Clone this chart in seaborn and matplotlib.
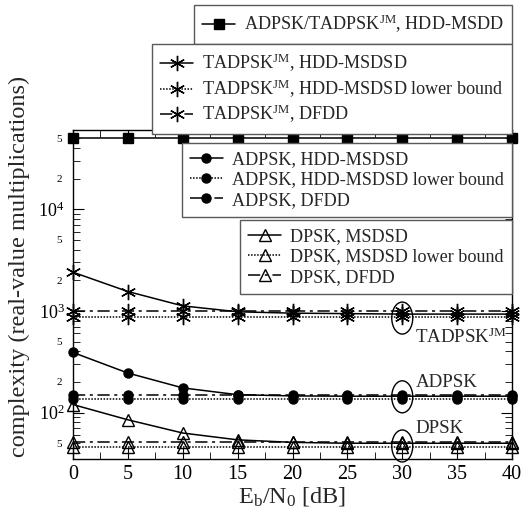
import numpy as np
import matplotlib
matplotlib.use("Agg")
import matplotlib.pyplot as plt
import matplotlib.ticker as mticker
from matplotlib.patches import Ellipse
from matplotlib.transforms import ScaledTranslation
import seaborn as sns

# ── Data ──────────────────────────────────────────────────────────────────────
snr_db = [0, 5, 10, 15, 20, 25, 30, 35, 40]

hdd_msdd = [5e4] * 9

tadpsk_msdsd = [2400, 1550, 1120, 980, 950, 940, 930, 930, 930]
tadpsk_lower = [880] * 9
tadpsk_dfdd = [1000] * 9

adpsk_msdsd = [390, 245, 175, 150, 146, 145, 145, 145, 145]
adpsk_lower = [137] * 9
adpsk_dfdd = [150] * 9

dpsk_msdsd = [120, 85, 63, 54, 51, 50, 50, 50, 50]
dpsk_lower = [46] * 9
dpsk_dfdd = [51] * 9

# ── Style ─────────────────────────────────────────────────────────────────────
sns.set_style("ticks")
plt.rcParams["font.family"] = ["Liberation Serif", "DejaVu Serif"]
plt.rcParams["mathtext.fontset"] = "custom"
plt.rcParams["mathtext.rm"] = "Liberation Serif"
plt.rcParams["mathtext.it"] = "Liberation Serif:italic"
plt.rcParams["axes.edgecolor"] = "black"
plt.rcParams["axes.linewidth"] = 1.0

FS = 13.1      # legend / annotation text
LAB_FS = 17.5  # axis labels
dashdot = (0, (8, 3, 2, 3))
dotted = (0, (1, 1))

W, H = 526, 512
fig = plt.figure(figsize=(W / 100, H / 100), dpi=100)
ax = fig.add_axes([73 / W, 1 - 459 / H, (512 - 73) / W, (459 - 130) / H])

star = (6, 2, 0)


def draw(y, ls, marker, ms, mfc):
    sns.lineplot(x=snr_db, y=y, ax=ax, color="black", linestyle=ls, lw=1.1,
                 marker=marker, markersize=ms, markerfacecolor=mfc,
                 markeredgecolor="black", markeredgewidth=1.0, clip_on=False)
    return ax.lines[-1]


h_sq = draw(hdd_msdd, "-", "s", 7.5, "black")

h_t1 = draw(tadpsk_msdsd, "-", star, 11, "none")
h_t2 = draw(tadpsk_lower, dotted, star, 11, "none")
h_t3 = draw(tadpsk_dfdd, dashdot, star, 11, "none")

h_a1 = draw(adpsk_msdsd, "-", "o", 6.5, "black")
h_a2 = draw(adpsk_lower, dotted, "o", 6.5, "black")
h_a3 = draw(adpsk_dfdd, dashdot, "o", 6.5, "black")

h_d1 = draw(dpsk_msdsd, "-", "^", 9, "none")
h_d2 = draw(dpsk_lower, dotted, "^", 9, "none")
h_d3 = draw(dpsk_dfdd, dashdot, "^", 9, "none")

# ── Axes ──────────────────────────────────────────────────────────────────────
ax.set_yscale("log")
ax.set_xlim(0, 40)
ax.set_ylim(35, 6e4)
ax.set_xticks(range(0, 41, 5))
ax.xaxis.set_minor_locator(mticker.MultipleLocator(2.5))
ax.yaxis.set_major_locator(mticker.LogLocator(base=10, numticks=10))
ax.yaxis.set_minor_locator(mticker.LogLocator(base=10, subs=np.arange(2, 10), numticks=20))
ax.yaxis.set_major_formatter(mticker.FuncFormatter(
    lambda v, p: r"$10^{%d}$" % round(np.log10(v))))


def minor_fmt(v, p):
    m = v / 10 ** np.floor(np.log10(v) + 1e-9)
    if abs(m - 2) < 0.01:
        return "2"
    if abs(m - 5) < 0.01:
        return "5"
    return ""


ax.yaxis.set_minor_formatter(mticker.FuncFormatter(minor_fmt))
ax.tick_params(which="both", direction="in", top=True, right=True, colors="black")
ax.tick_params(which="major", length=8)
ax.tick_params(which="minor", length=5)
ax.tick_params(axis="x", which="major", labelsize=14.5, pad=4)
ax.tick_params(axis="y", which="major", labelsize=13, pad=6)
ax.tick_params(axis="y", which="minor", labelsize=8, pad=8)
ax.tick_params(axis="x", which="minor", labelbottom=False)

ax.set_xlabel(r"E$_\mathrm{b}$/N$_0$ [dB]", fontsize=LAB_FS, labelpad=1)
ax.set_ylabel("complexity (real-value multiplications)", fontsize=LAB_FS)
ax.yaxis.set_label_coords(-0.097, 0.585)

# ── Ellipses and group labels at 30 dB ────────────────────────────────────────
for yc in [850, 143, 47]:
    off = ScaledTranslation(30, yc, ax.transData)
    ax.add_patch(Ellipse((0, 0), 0.21, 0.32, fill=False, ec="black", lw=1.0,
                         transform=fig.dpi_scale_trans + off, clip_on=False))

ax.text(31.2, 545, r"TADPSK$^{\mathrm{JM}}$", fontsize=FS + 0.5, va="center")
ax.text(31.2, 197, "ADPSK", fontsize=FS + 0.5, va="center")
ax.text(31.2, 70, "DPSK", fontsize=FS + 0.5, va="center")

# ── Legends ───────────────────────────────────────────────────────────────────
leg_kw = dict(loc="upper right", fontsize=FS, frameon=True, fancybox=False,
              framealpha=1, edgecolor="0.35", borderaxespad=0, borderpad=0.45,
              labelspacing=0.18, handlelength=1.8, handletextpad=0.5)

jm = r"TADPSK$^{\mathrm{JM}}$"
fig.legend([h_sq], [r"ADPSK/TADPSK$^{\mathrm{JM}}$, HDD-MSDD"],
           bbox_to_anchor=(512 / W, 1 - 5 / H), **leg_kw)
fig.legend([h_t1, h_t2, h_t3],
           [jm + ", HDD-MSDSD", jm + ", HDD-MSDSD lower bound", jm + ", DFDD"],
           bbox_to_anchor=(512 / W, 1 - 44 / H), **leg_kw)
fig.legend([h_a1, h_a2, h_a3],
           ["ADPSK, HDD-MSDSD", "ADPSK, HDD-MSDSD lower bound", "ADPSK, DFDD"],
           bbox_to_anchor=(512 / W, 1 - 143 / H), **leg_kw)
fig.legend([h_d1, h_d2, h_d3],
           ["DPSK, MSDSD", "DPSK, MSDSD lower bound", "DPSK, DFDD"],
           bbox_to_anchor=(512 / W, 1 - 220 / H), **leg_kw)

fig.savefig("out.png", dpi=100)
